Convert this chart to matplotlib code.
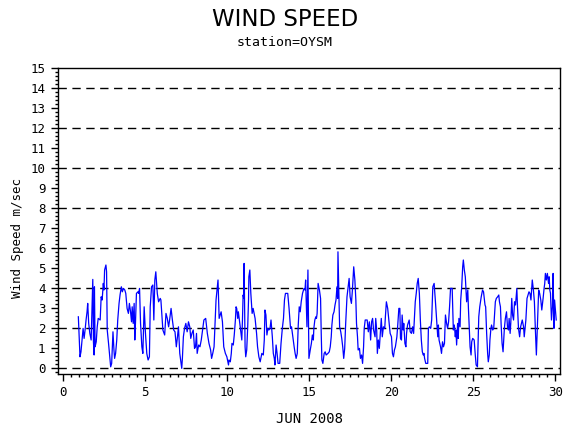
import numpy as np
import matplotlib
matplotlib.use("Agg")
import matplotlib.pyplot as plt
from matplotlib.ticker import MultipleLocator

# days into June 2008 at the turning points of the trace
days = [
    0.94, 1.04, 1.10, 1.23, 1.29, 1.35, 1.41, 1.47, 1.51, 1.57, 1.64, 1.72, 1.76, 1.82, 1.86, 1.90,
    1.92, 1.96, 2.03, 2.09, 2.15, 2.27, 2.33, 2.39, 2.46, 2.50, 2.54, 2.62, 2.66, 2.70, 2.78, 2.91,
    2.97, 3.01, 3.05, 3.11, 3.15, 3.21, 3.28, 3.34, 3.42, 3.48, 3.56, 3.62, 3.69, 3.77, 3.83, 3.91,
    3.99, 4.05, 4.12, 4.18, 4.22, 4.28, 4.34, 4.38, 4.42, 4.48, 4.57, 4.61, 4.67, 4.73, 4.81, 4.87,
    4.95, 5.03, 5.11, 5.19, 5.27, 5.32, 5.40, 5.48, 5.54, 5.60, 5.66, 5.75, 5.83, 5.93, 5.97, 6.09,
    6.20, 6.28, 6.36, 6.44, 6.50, 6.59, 6.67, 6.75, 6.83, 6.91, 6.98, 7.04, 7.12, 7.24, 7.28, 7.34,
    7.41, 7.49, 7.57, 7.65, 7.73, 7.79, 7.86, 7.94, 8.02, 8.08, 8.14, 8.18, 8.27, 8.35, 8.43, 8.51,
    8.59, 8.70, 8.80, 8.90, 9.00, 9.06, 9.13, 9.21, 9.27, 9.33, 9.39, 9.45, 9.52, 9.58, 9.64, 9.72,
    9.80, 9.90, 9.99, 10.09,
    10.12, 10.20, 10.26, 10.30, 10.38, 10.44, 10.51, 10.55, 10.59, 10.65, 10.69, 10.73, 10.79, 10.85,
    10.90, 10.94, 10.98, 11.02, 11.04, 11.10, 11.14, 11.20, 11.26, 11.31, 11.33, 11.39, 11.45, 11.53,
    11.59, 11.63, 11.71, 11.80, 11.86, 11.94, 12.02, 12.12, 12.21, 12.27, 12.31, 12.37, 12.43, 12.49,
    12.55, 12.62, 12.68, 12.76, 12.82, 12.88, 12.92, 12.99, 13.05, 13.11, 13.21, 13.29, 13.37, 13.44,
    13.50, 13.56, 13.70, 13.78, 13.87, 13.93, 14.01, 14.09, 14.15, 14.21, 14.28, 14.34, 14.40, 14.46,
    14.52, 14.60, 14.69, 14.75, 14.79, 14.87, 14.93, 14.99, 15.07, 15.14, 15.20, 15.26,
    15.29, 15.35, 15.41, 15.45, 15.49, 15.55, 15.63, 15.70, 15.74, 15.78, 15.84, 15.92, 15.98, 16.04,
    16.15, 16.23, 16.29, 16.35, 16.39, 16.45, 16.52, 16.58, 16.64, 16.70, 16.74, 16.76, 16.80, 16.86,
    16.93, 16.99, 17.05, 17.11, 17.17, 17.23, 17.31, 17.38, 17.44, 17.50, 17.58, 17.64, 17.72, 17.79,
    17.85, 17.89, 17.95, 17.99, 18.07, 18.13, 18.20, 18.26, 18.32, 18.36, 18.42, 18.54, 18.61, 18.67,
    18.71, 18.75, 18.81, 18.87, 18.93, 19.02, 19.06, 19.12, 19.16, 19.22, 19.28, 19.34, 19.40, 19.46,
    19.53, 19.61, 19.65, 19.71, 19.79, 19.88, 19.94, 20.02, 20.08, 20.14, 20.20, 20.26, 20.35, 20.41,
    20.47, 20.53, 20.57, 20.63, 20.67, 20.73, 20.77, 20.84, 20.90, 20.94, 21.00, 21.06, 21.10, 21.16,
    21.24, 21.31, 21.37, 21.41, 21.47, 21.53, 21.59, 21.65, 21.72, 21.78, 21.84, 21.90, 21.96, 22.00,
    22.04, 22.11, 22.23, 22.27, 22.33, 22.41, 22.47, 22.54, 22.62, 22.70, 22.78, 22.84, 22.88, 22.92,
    23.01, 23.07, 23.13, 23.19, 23.25, 23.31, 23.38, 23.44, 23.50, 23.56, 23.62, 23.72, 23.79, 23.85,
    23.91, 23.95, 23.99, 24.05, 24.09, 24.13, 24.20, 24.24, 24.30, 24.36, 24.40, 24.46, 24.52, 24.56,
    24.60, 24.67, 24.71, 24.81, 24.87, 24.91, 24.97, 25.06, 25.12, 25.18, 25.26, 25.30, 25.34, 25.40,
    25.49, 25.57, 25.63,
    25.72, 25.76, 25.82, 25.88, 25.92, 25.98, 26.02, 26.08, 26.12, 26.19, 26.25, 26.29, 26.35, 26.41,
    26.49, 26.56, 26.60, 26.66, 26.70, 26.76, 26.82, 26.86, 26.90, 26.96, 27.03, 27.09, 27.15, 27.19,
    27.25, 27.29, 27.35, 27.40, 27.46, 27.52, 27.58, 27.66, 27.70, 27.76, 27.83, 27.89, 27.99, 28.07,
    28.11, 28.17, 28.21, 28.28, 28.34, 28.40, 28.46, 28.52, 28.60, 28.67, 28.73, 28.79, 28.85, 28.91,
    28.99, 29.05, 29.12, 29.18, 29.26, 29.32, 29.36, 29.40, 29.46, 29.52, 29.59, 29.63, 29.67, 29.71,
    29.77, 29.83, 29.87, 29.92, 29.96, 30.02, 30.06,
]

# wind speed in m/sec at those points
speed = [
    2.58, 0.58, 0.83, 2.00, 1.50, 1.92, 2.42, 2.83, 3.25, 2.25, 1.75, 1.42, 2.58, 4.45, 1.33, 0.67,
    4.08, 1.08, 1.33, 2.08, 2.50, 2.42, 3.58, 3.42, 4.25, 3.92, 4.92, 5.17, 4.83, 1.92, 1.25, 0.08,
    0.25, 1.08, 1.83, 0.92, 0.50, 0.75, 1.42, 2.42, 3.25, 3.67, 4.08, 3.83, 4.00, 3.92, 3.75, 3.00,
    2.75, 3.25, 2.83, 2.33, 3.08, 2.25, 3.25, 1.42, 2.25, 3.75, 3.83, 3.75, 4.00, 2.25, 1.08, 0.75,
    3.08, 1.75, 0.75, 0.42, 0.58, 3.08, 4.08, 4.17, 2.42, 4.42, 4.83, 3.75, 3.33, 3.50, 3.42, 1.92,
    1.67, 2.75, 2.50, 2.08, 2.42, 3.00, 2.42, 1.92, 1.83, 1.08, 1.58, 2.08, 0.75, 0.00, 0.50, 1.58,
    2.00, 2.25, 1.83, 2.33, 2.08, 1.50, 1.75, 1.92, 1.00, 1.08, 1.75, 0.75, 1.17, 1.08, 1.42, 1.92,
    2.42, 2.50, 1.75, 1.25, 0.92, 0.50, 0.75, 1.08, 2.25, 3.42, 3.92, 4.42, 2.50, 2.67, 2.83, 2.33,
    1.08, 0.75, 0.58, 0.17,
    0.42, 0.33, 0.75, 1.25, 1.17, 1.67, 2.42, 3.08, 3.00, 2.50, 2.83, 2.58, 2.17, 1.75,
    1.42, 2.42, 3.67, 3.50, 5.25, 1.08, 0.58, 0.92, 2.08, 3.42, 4.58, 4.92, 3.75, 2.75,
    3.00, 2.83, 2.50, 1.75, 1.08, 0.58, 0.33, 0.75, 0.67, 1.42, 2.92, 2.67, 1.67, 2.00,
    1.92, 2.00, 2.42, 1.58, 0.75, 0.50, 0.17, 1.17, 0.75, 0.25, 0.25, 1.25, 2.00, 2.50,
    3.42, 3.75, 3.75, 3.00, 2.00, 2.08, 1.58, 1.08, 0.75, 0.50, 0.75, 2.17, 3.08, 2.83,
    3.33, 3.75, 4.00, 3.92, 4.42, 2.08, 4.92, 0.50, 0.92, 1.25, 1.67, 1.42,
    2.00, 2.42, 2.58, 2.50, 2.75, 4.25, 3.92, 3.50, 1.75, 0.42, 0.25, 0.75, 0.83, 0.67,
    0.75, 0.83, 1.08, 1.58, 2.17, 2.67, 2.83, 3.17, 3.42, 4.08, 3.50, 5.83, 4.42, 2.08,
    1.83, 1.50, 1.08, 0.50, 1.00, 2.25, 3.58, 4.08, 4.50, 3.58, 3.25, 3.92, 5.08, 4.42,
    3.42, 2.25, 1.58, 0.92, 1.00, 0.50, 0.67, 0.25, 1.08, 2.00, 2.42, 2.42, 1.83, 2.33,
    2.00, 1.42, 2.33, 2.50, 1.92, 1.58, 2.50, 1.92, 0.75, 1.42, 1.00, 1.75, 2.50, 1.58,
    2.08, 2.00, 2.58, 3.33, 3.00, 2.25, 1.75, 1.58, 0.75, 0.58, 0.92, 1.08, 1.58, 2.25,
    3.00, 3.00, 1.50, 1.42, 2.67, 1.92, 2.25, 1.25, 1.08, 1.75, 2.17, 2.33, 2.42, 1.83,
    1.75, 2.08, 1.75, 2.42, 3.33, 3.75, 4.25, 4.50, 3.75, 2.42, 1.42, 0.83, 0.67, 0.75,
    0.50, 0.25, 0.25, 2.00, 2.08, 2.00, 2.42, 4.08, 4.25, 3.33, 2.33, 1.58, 2.17, 1.42,
    1.08, 0.75, 1.33, 1.08, 1.25, 2.67, 2.25, 2.00, 2.33, 3.08, 4.00, 4.00, 1.92, 2.17,
    1.58, 1.92, 1.17, 2.25, 1.50, 2.50, 2.08, 3.42, 4.08, 5.08, 5.42, 4.92, 4.58, 3.92,
    3.33, 3.92, 3.00, 1.08, 0.67, 1.33, 1.50, 1.42, 0.75, 0.17, 0.08, 1.42, 2.58, 3.08,
    3.58, 3.92, 3.83,
    3.17, 3.08, 1.75, 0.75, 0.33, 0.67, 1.42, 2.00, 2.17, 1.92, 2.00, 2.50, 3.33, 3.50,
    3.58, 3.67, 3.33, 3.08, 2.25, 1.25, 0.83, 1.42, 2.00, 2.50, 2.83, 2.08, 1.92, 2.50,
    1.75, 2.25, 3.50, 2.67, 2.42, 3.33, 3.17, 4.00, 3.08, 2.00, 1.58, 2.08, 2.42, 2.08,
    1.58, 2.08, 2.42, 3.50, 3.67, 3.83, 3.75, 3.42, 4.42, 3.92, 3.33, 1.92, 0.67, 2.08,
    3.92, 3.75, 3.42, 2.92, 3.50, 4.00, 4.25, 4.75, 4.42, 4.75, 4.25, 4.58, 3.92, 3.75,
    2.42, 3.08, 4.75, 2.00, 3.42, 2.83, 2.42,
]

ref_levels = [0, 2, 4, 6, 8, 10, 12, 14]
y_ticks = list(range(0, 16))
x_ticks = [0, 5, 10, 15, 20, 25, 30]

mono = "DejaVu Sans Mono"

fig = plt.figure(figsize=(5.7, 4.3), dpi=100)
ax = fig.add_axes([58 / 570, 1 - 374 / 430, 502 / 570, 306 / 430])

for lvl in ref_levels:
    ax.axhline(lvl, color="black", linestyle=(0, (6, 4)), linewidth=1.0, zorder=1)

ax.plot(days, speed, color="#0000FF", linewidth=0.9, zorder=2)

ax.set_xlim(-0.3, 30.29)
ax.set_ylim(-0.28, 15.02)

ax.set_xticks(x_ticks)
ax.set_yticks(y_ticks)
ax.xaxis.set_minor_locator(MultipleLocator(0.5))
ax.yaxis.set_minor_locator(MultipleLocator(0.2))
ax.tick_params(axis="both", which="major", direction="out", length=5, width=1, pad=4,
               labelsize=9)
ax.tick_params(axis="both", which="minor", direction="out", length=2.5, width=1)
for lab in ax.get_xticklabels() + ax.get_yticklabels():
    lab.set_fontfamily(mono)

for side in ["top", "right", "left", "bottom"]:
    ax.spines[side].set_linewidth(1.0)

ax.set_xlabel("JUN 2008", fontfamily=mono, fontsize=10)
ax.xaxis.set_label_coords(0.5, -0.125)
ax.set_ylabel("Wind Speed m/sec", fontfamily=mono, fontsize=9)
ax.yaxis.set_label_coords(-0.068, 0.445)

fig.text(285 / 570, 1 - 20 / 430, "WIND SPEED", ha="center", va="center",
         fontsize=16.5, fontfamily="DejaVu Sans")
fig.text(285 / 570, 1 - 43 / 430, "station=OYSM", ha="center", va="center",
         fontsize=9.5, fontfamily=mono)

fig.savefig("out.png", dpi=100)
